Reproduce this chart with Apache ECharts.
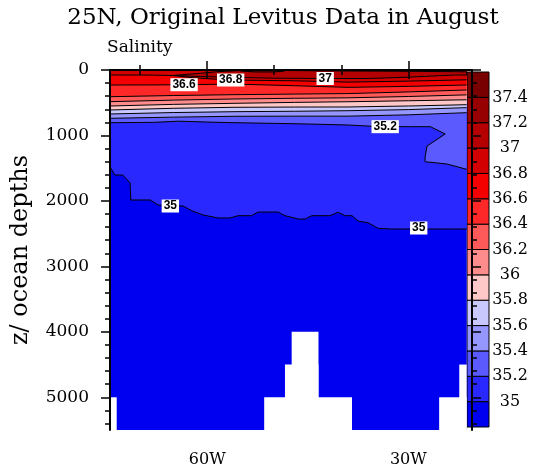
<!DOCTYPE html>
<html><head><meta charset="utf-8">
<script src="https://cdn.jsdelivr.net/npm/echarts@6/dist/echarts.min.js"></script>
<style>html,body{margin:0;padding:0;background:#fff}#c{width:537px;height:474px}</style>
</head><body><div id="c"></div>
<script>
// ---- data ----
const lonStart = -74.5, lonAxisEnd = -20.5, lonDataEnd = -21.3, depthMax = 5500;
const levels = [35, 35.2, 35.4, 35.6, 35.8, 36, 36.2, 36.4, 36.6, 36.8, 37, 37.2, 37.4];
const cbMin = 34.8, cbMax = 37.6;
const bandColors = ['#0000f0', '#2828ff', '#5a5aff', '#9696ff', '#c8c8ff', '#ffc8c8', '#ff8c8c',
  '#ff5a5a', '#ff2828', '#f50000', '#d20000', '#b40000', '#960000', '#780000'];
const lonTicksMajor = [-60, -30];
const lonTicksMinor = [-70, -50, -40];
const depthTicksMajor = [0, 1000, 2000, 3000, 4000, 5000];
const depthTicksMinor = [200, 400, 600, 800, 1200, 1400, 1600, 1800, 2200, 2400, 2600, 2800,
  3200, 3400, 3600, 3800, 4200, 4400, 4600, 4800, 5200, 5400];

// contour lines [lon, depth]
const c350 = [[-74.5,1477],[-73.8,1604],[-72.6,1604],[-71.5,1727],[-71.4,1986],[-68.5,1986],[-67.3,2063],
  [-63.6,2078],[-62.3,2150],[-60.6,2215],[-58.4,2261],[-56.6,2261],[-55.4,2226],[-53.4,2226],[-52.4,2170],
  [-49.4,2170],[-48.4,2226],[-46.4,2277],[-45.4,2277],[-44.4,2226],[-41.7,2226],[-40.5,2174],[-39.4,2226],
  [-38.4,2226],[-37.5,2307],[-36,2333],[-34.5,2419],[-32.7,2429],[-23.3,2429],[-21.3,2429]];
const c352 = [[-74.5,805],[-68,800],[-64.3,782],[-60,795],[-56,805],[-50,815],[-45,825],[-39,840],
  [-35,862],[-30,866],[-26.7,866],[-24.5,978],[-27.2,1161],[-27.5,1329],[-27.5,1401],[-24.25,1436],[-21.3,1517]];
const c354 = [[-74.5,738],[-65,720],[-56,707],[-47,705],[-39,705],[-30,685],[-21.3,652]];
const c356 = [[-74.5,672],[-65,650],[-56,637],[-47,630],[-39,622],[-30,605],[-21.3,575]];
const c358 = [[-74.5,611],[-65,585],[-56,570],[-47,566],[-39,565],[-30,550],[-21.3,530]];
const c360 = [[-74.5,550],[-65,525],[-56,509],[-47,495],[-39,485],[-30,470],[-21.3,455]];
const c362 = [[-74.5,484],[-65,460],[-56,443],[-47,432],[-39,425],[-30,405],[-21.3,380]];
const c364 = [[-74.5,408],[-65,390],[-56,377],[-47,368],[-39,360],[-30,335],[-21.3,305]];
const c366 = [[-74.5,229],[-68,228],[-63.5,225],[-56,215],[-47,240],[-39,265],[-30,250],[-21.3,229]];
const c368 = [[-74.5,76],[-68,78],[-65,85],[-62,120],[-56.5,153],[-47,165],[-39,185],[-30,170],[-21.3,150]];
const lens370 = [[-65.2,84],[-61,50],[-58.5,26],[-55,8],[-48,8],[-40,15],[-30,20],[-23,26],[-21.3,28],
  [-21.3,78],[-23,76],[-30,110],[-36,130],[-42.4,130],[-50,125],[-56,112],[-61,100]];
const lens372 = [[-55,14],[-53,8],[-50,8],[-48.5,16],[-50,30],[-53,30]];

// white sea floor blocks [lonFrom, lonTo, topDepth]
const seafloor = [[-74.5,-73.5,5000],[-51.5,-38.4,5000],[-48.4,-43.4,4500],[-47.4,-43.4,4000],
  [-25.4,-21.3,5000],[-22.4,-21.3,4500]];

const contourLabels = [[-63.45,225,'36.6'],[-56.5,153,'36.8'],[-42.4,130,'37'],[-33.45,866,'35.2'],
  [-65.5,2078,'35'],[-28.45,2414,'35']];

// ---- build shapes ----
function above(c) { return c.concat([[lonDataEnd, 0], [lonStart, 0]]); }
const fills = [
  {pts: [[lonStart,0],[lonDataEnd,0],[lonDataEnd,depthMax],[lonStart,depthMax]], color: bandColors[0]},
  {pts: above(c350), color: bandColors[1]},
  {pts: above(c352), color: bandColors[2]},
  {pts: above(c354), color: bandColors[3]},
  {pts: above(c356), color: bandColors[4]},
  {pts: above(c358), color: bandColors[5]},
  {pts: above(c360), color: bandColors[6]},
  {pts: above(c362), color: bandColors[7]},
  {pts: above(c364), color: bandColors[8]},
  {pts: above(c366), color: bandColors[9]},
  {pts: above(c368), color: bandColors[10]},
  {pts: lens370, color: bandColors[11]},
  {pts: lens372, color: bandColors[12]}
];
const lines = [
  {pts: c350}, {pts: c352}, {pts: c354}, {pts: c356}, {pts: c358}, {pts: c360}, {pts: c362},
  {pts: c364}, {pts: c366}, {pts: c368}, {pts: lens370.concat([lens370[0]])}, {pts: lens372.concat([lens372[0]])}
];

const FONT = 'DejaVu Serif';
const tickStyle = {color: '#000', width: 1.5};

function xAx(pos, vals, len, label, showLine) {
  return {
    gridIndex: 0, type: 'value', min: lonStart, max: lonAxisEnd, position: pos, z: 10,
    axisLine: {show: showLine, lineStyle: {color: '#000', width: 2}},
    axisTick: {show: true, customValues: vals, length: len, lineStyle: tickStyle},
    axisLabel: label ? {show: true, customValues: vals, formatter: v => Math.abs(v) + 'W', margin: 22,
      color: '#000', fontFamily: FONT, fontSize: 16} : {show: false},
    splitLine: {show: false}
  };
}
function yAx(pos, vals, len, label, showLine, name) {
  const a = {
    gridIndex: 0, type: 'value', min: 0, max: depthMax, inverse: true, position: pos, z: 10,
    axisLine: {show: showLine, lineStyle: {color: '#000', width: 2}},
    axisTick: {show: true, customValues: vals, length: len, lineStyle: tickStyle},
    axisLabel: label ? {show: true, customValues: vals, formatter: v => String(v), margin: 21,
      color: '#000', fontFamily: FONT, fontSize: 17} : {show: false},
    splitLine: {show: false}
  };
  if (name) {
    a.name = name; a.nameLocation = 'middle'; a.nameGap = 77;
    a.nameTextStyle = {color: '#000', fontFamily: FONT, fontSize: 24};
  }
  return a;
}

const option = {
  animation: false,
  backgroundColor: '#fff',
  textStyle: {fontFamily: FONT},
  grid: [
    {left: 110, top: 70, width: 362, height: 360},
    {left: 467, top: 72, width: 22, height: 355}
  ],
  xAxis: [
    xAx('bottom', lonTicksMajor, 9, true, true),
    xAx('bottom', lonTicksMinor, 5, false, false),
    xAx('top', lonTicksMajor, 9, false, true),
    xAx('top', lonTicksMinor, 5, false, false),
    {gridIndex: 1, type: 'value', min: 0, max: 1, show: false}
  ],
  yAxis: [
    yAx('left', depthTicksMajor, 9, true, true, 'z/ ocean depths'),
    yAx('left', depthTicksMinor, 5, false, false),
    yAx('right', depthTicksMajor, 9, false, true),
    yAx('right', depthTicksMinor, 5, false, false),
    {gridIndex: 1, type: 'value', min: cbMin, max: cbMax, position: 'right',
      axisLine: {show: false}, axisTick: {show: false}, splitLine: {show: false},
      axisLabel: {customValues: levels, formatter: v => String(+(+v).toFixed(1)), margin: 21, align: 'center',
        color: '#000', fontFamily: FONT, fontSize: 16}}
  ],
  graphic: [
    {type: 'text', x: 283, y: 18, style: {text: '25N, Original Levitus Data in August', font: '23px "DejaVu Serif"',
      fill: '#000', align: 'center', verticalAlign: 'middle'}},
    {type: 'text', x: 107, y: 48, style: {text: 'Salinity', font: '17px "DejaVu Serif"', fill: '#000',
      align: 'left', verticalAlign: 'middle'}}
  ],
  series: [
    {type: 'custom', xAxisIndex: 0, yAxisIndex: 0, clip: true, z: 2, silent: true,
      data: fills.map(f => f.pts[0]), encode: {x: 0, y: 1},
      renderItem: (params, api) => {
        const f = fills[params.dataIndex];
        return {type: 'polygon', shape: {points: f.pts.map(p => api.coord(p))}, style: {fill: f.color, stroke: null}};
      }},
    {type: 'custom', xAxisIndex: 0, yAxisIndex: 0, clip: true, z: 3, silent: true,
      data: seafloor.map(s => [s[0], s[2]]), encode: {x: 0, y: 1},
      renderItem: (params, api) => {
        const s = seafloor[params.dataIndex];
        const p1 = api.coord([s[0], s[2]]), p2 = api.coord([s[1], depthMax]);
        return {type: 'rect', shape: {x: p1[0], y: p1[1], width: p2[0] - p1[0], height: p2[1] - p1[1]}, style: {fill: '#fff'}};
      }},
    {type: 'custom', xAxisIndex: 0, yAxisIndex: 0, clip: true, z: 4, silent: true,
      data: lines.map(l => l.pts[0]), encode: {x: 0, y: 1},
      renderItem: (params, api) => {
        const l = lines[params.dataIndex];
        return {type: 'polyline', shape: {points: l.pts.map(p => api.coord(p))}, style: {stroke: '#000', lineWidth: 1, fill: null}};
      }},
    {type: 'custom', xAxisIndex: 0, yAxisIndex: 0, clip: false, z: 5, silent: true,
      data: contourLabels.map(c => [c[0], c[1]]), encode: {x: 0, y: 1},
      renderItem: (params, api) => {
        const c = contourLabels[params.dataIndex];
        const p = api.coord([c[0], c[1]]);
        return {type: 'text', x: p[0], y: p[1], style: {text: c[2], font: 'bold 12px "Liberation Sans"', fill: '#000',
          align: 'center', verticalAlign: 'middle', backgroundColor: '#fff', padding: [1, 2, 0, 2]}};
      }},
    {type: 'custom', xAxisIndex: 4, yAxisIndex: 4, z: 1, silent: true,
      data: bandColors.map((c, i) => [0, i === 0 ? cbMin : levels[i - 1]]), encode: {x: 0, y: 1},
      renderItem: (params, api) => {
        const i = params.dataIndex;
        const lo = i === 0 ? cbMin : levels[i - 1];
        const hi = i === levels.length ? cbMax : levels[i];
        const p1 = api.coord([0, hi]), p2 = api.coord([1, lo]);
        return {type: 'rect', shape: {x: p1[0], y: p1[1], width: p2[0] - p1[0], height: p2[1] - p1[1]},
          style: {fill: bandColors[i], stroke: '#000', lineWidth: 1}};
      }}
  ]
};
const chart = echarts.init(document.getElementById('c'), null, {renderer: 'canvas'});
chart.setOption(option);
</script></body></html>
